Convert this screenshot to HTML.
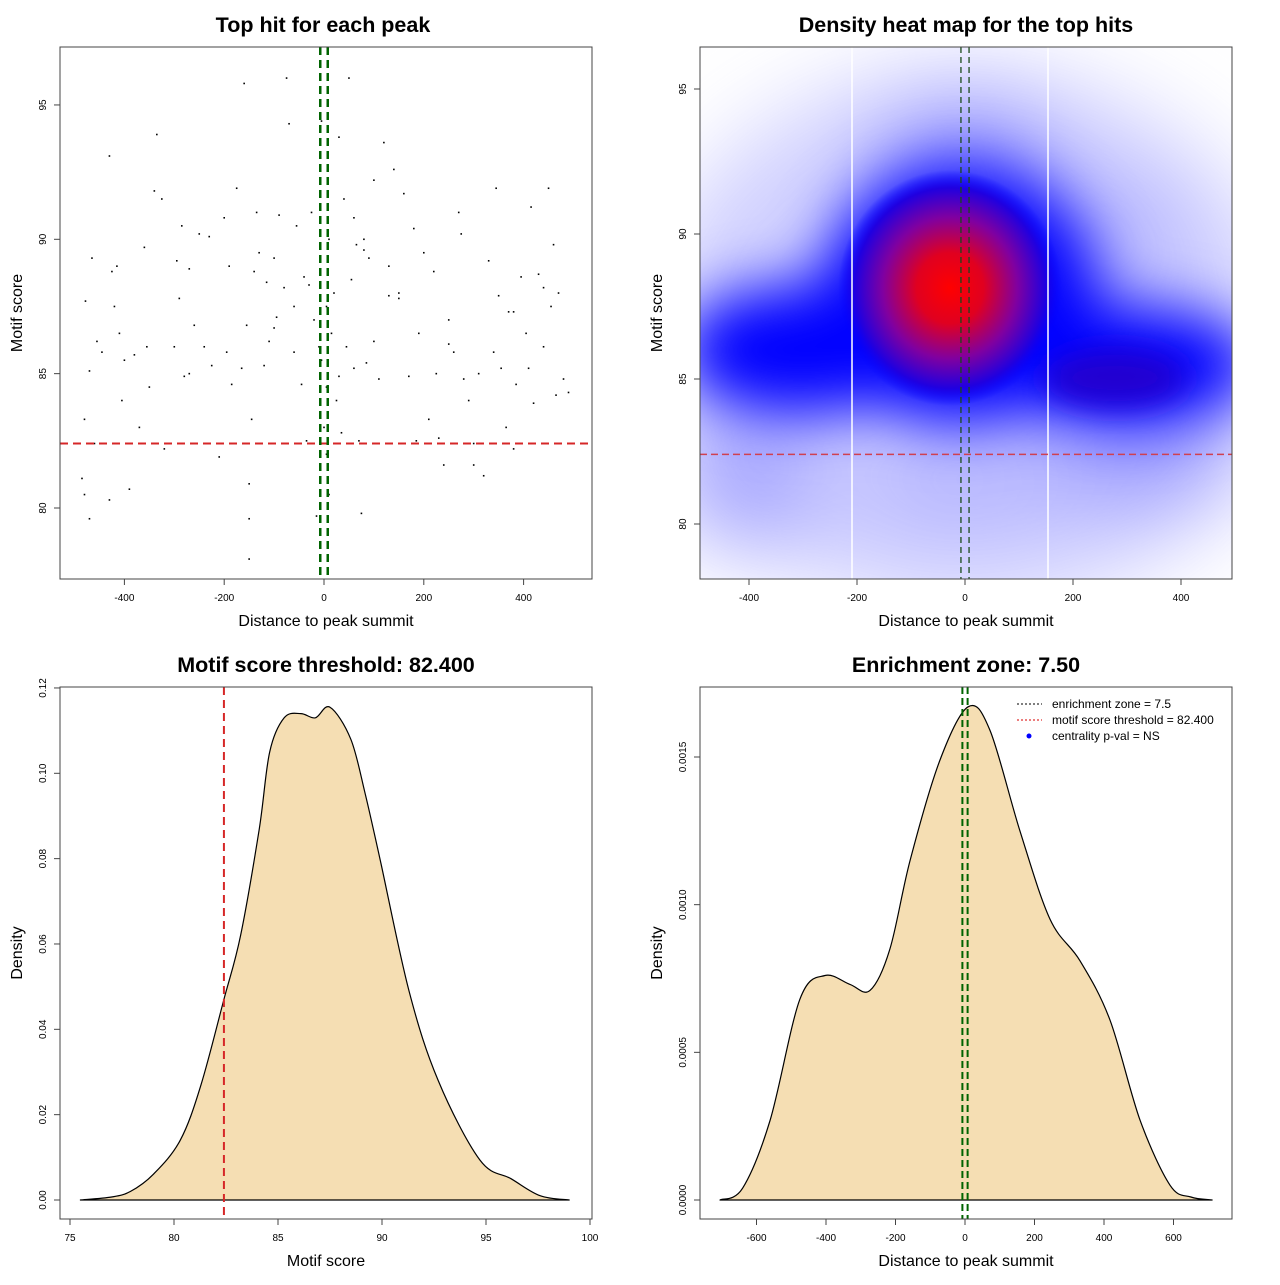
<!DOCTYPE html>
<html><head><meta charset="utf-8"><style>
html,body{margin:0;padding:0;background:#fff}
svg text{font-family:"Liberation Sans",Arial,sans-serif;fill:#000}
</style></head><body>
<svg id="root" xmlns="http://www.w3.org/2000/svg" width="1280" height="1280" viewBox="0 0 1280 1280">
<defs>
<clipPath id="c2"><rect x="700" y="47" width="532" height="532"/></clipPath>
<filter id="blur" x="-50%" y="-50%" width="200%" height="200%"><feGaussianBlur stdDeviation="45"/></filter>
<filter id="blur2" x="-50%" y="-50%" width="200%" height="200%"><feGaussianBlur stdDeviation="30"/></filter>
<filter id="blur3" x="-50%" y="-50%" width="200%" height="200%"><feGaussianBlur stdDeviation="14"/></filter>
<radialGradient id="redg">
<stop offset="0" stop-color="#ff0000"/><stop offset="0.3" stop-color="#e00020"/><stop offset="0.6" stop-color="#8000a0"/><stop offset="0.85" stop-color="#2000e0"/><stop offset="1" stop-color="#0000ff" stop-opacity="0"/>
</radialGradient>
</defs>
<g id="heat" clip-path="url(#c2)">
<rect x="700" y="47" width="532" height="532" fill="#fff"/>
<g filter="url(#blur)">
<ellipse cx="965" cy="340" rx="320" ry="270" fill="#a0a0ff" opacity="0.5"/>
<ellipse cx="740" cy="480" rx="70" ry="70" fill="#8080ff" opacity="0.6"/>
<ellipse cx="1140" cy="450" rx="100" ry="50" fill="#7070ff" opacity="0.6"/>
<ellipse cx="960" cy="480" rx="100" ry="40" fill="#9090ff" opacity="0.5"/>
<ellipse cx="965" cy="170" rx="90" ry="70" fill="#7070ff" opacity="0.6"/>
<ellipse cx="1110" cy="240" rx="60" ry="60" fill="#9090ff" opacity="0.5"/>
</g>
<g filter="url(#blur2)">
<ellipse cx="960" cy="295" rx="140" ry="130" fill="#0000ff"/>
<ellipse cx="800" cy="350" rx="120" ry="65" fill="#0000ff"/>
<ellipse cx="1125" cy="365" rx="130" ry="60" fill="#0000ff"/>
<ellipse cx="965" cy="365" rx="130" ry="55" fill="#0000ff"/>
</g>
<g filter="url(#blur3)">
<ellipse cx="1115" cy="378" rx="70" ry="28" fill="#2400d0"/>
</g>
<ellipse cx="950" cy="288" rx="112" ry="118" fill="url(#redg)"/>
</g>
</svg>
<script>
const NS='http://www.w3.org/2000/svg';
const root=document.getElementById('root');
function mk(tag,attrs,txt){const e=document.createElementNS(NS,tag);for(const k in attrs)e.setAttribute(k,attrs[k]);if(txt!==undefined)e.textContent=txt;root.appendChild(e);return e;}

// ---------- data ----------
const scatterDist=[-480,-478,-470,-465,-460,-455,-445,-430,-425,-420,-415,-410,-405,-400,-390,-380,-370,-360,-355,-340,-335,-325,-320,-300,-295,-290,-285,-280,-270,-260,-250,-240,-225,-210,-200,-195,-185,-175,-165,-160,-155,-150,-145,-140,-135,-120,-115,-110,-100,-95,-90,-80,-75,-70,-60,-55,-45,-35,-25,-20,-15,-10,-5,5,10,15,20,25,30,35,40,45,50,55,60,65,70,75,80,85,90,100,110,120,130,140,150,160,170,180,185,190,200,210,220,225,230,240,250,260,270,275,280,290,300,310,320,330,340,345,350,355,365,370,380,385,395,405,410,415,420,430,440,450,455,460,465,470,480,490,-150,-150,-270,-485,-480,-470,-430,0,5,-5,5,10,-130,-60,-40,60,100,150,-350,-230,-190,-100,-30,30,80,130,250,300,380,440];
const scatterScore=[83.3,87.7,85.1,89.3,82.4,86.2,85.8,93.1,88.8,87.5,89,86.5,84,85.5,80.7,85.7,83,89.7,86,91.8,93.9,91.5,82.2,86,89.2,87.8,90.5,84.9,88.9,86.8,90.2,86,85.3,81.9,90.8,85.8,84.6,91.9,85.2,95.8,86.8,80.9,83.3,88.8,91,85.3,88.4,86.2,89.3,87.1,90.9,88.2,96,94.3,85.8,90.5,84.6,82.5,91,87,79.7,86,94.4,87.5,90,86.5,88,84,93.8,82.8,91.5,86,96,88.5,85.2,89.8,82.5,79.8,90,85.4,89.3,92.2,84.8,93.6,89,92.6,88,91.7,84.9,90.4,82.5,86.5,89.5,83.3,88.8,85,82.6,81.6,87,85.8,91,90.2,84.8,84,81.6,85,81.2,89.2,85.8,91.9,87.9,85.2,83,87.3,82.2,84.6,88.6,86.5,85.2,91.2,83.9,88.7,86,91.9,87.5,89.8,84.2,88,84.8,84.3,78.1,79.6,85,81.1,80.5,79.6,80.3,83,84.5,85.5,82,80.5,89.5,87.5,88.6,90.8,86.2,87.8,84.5,90.1,89,86.7,88.3,84.9,89.6,87.9,86.1,82.4,87.3,88.2];
const scoreX=[75.5,77,77.9,79,80.3,81.3,82.4,83.2,84.1,84.6,85.3,86.1,86.8,87.5,88.5,89.2,89.9,91.3,92.7,94.7,96.2,97.6,99];
const scoreDensity=[0,0.0007,0.002,0.006,0.014,0.027,0.047,0.062,0.087,0.105,0.113,0.114,0.113,0.1155,0.108,0.095,0.080,0.049,0.028,0.0094,0.005,0.001,0];
const distX=[-705,-640,-561,-475,-403,-331,-273,-216,-158,-72,9,72,158,245,331,417,504,590,650,711];
const distDensity=[0,0.00004,0.00027,0.00068,0.00076,0.00073,0.00071,0.00085,0.00115,0.00149,0.00167,0.00159,0.00125,0.00095,0.00081,0.00061,0.00027,0.00005,0.00001,0];
const ticksDist1=[-400,-200,0,200,400];
const ticksScore1=[80,85,90,95];
const ticksScore3=[75,80,85,90,95,100];
const ticksDens3=[0,0.02,0.04,0.06,0.08,0.10,0.12];
const ticksDist4=[-600,-400,-200,0,200,400,600];
const ticksDens4=[0,0.0005,0.0010,0.0015];
const threshold=[82.4];
const zone=[7.5];

// ---------- axis functions ----------
const x1=v=>324+v*0.499, y1=v=>508-(v-80)*26.87;
const x2=v=>965+v*0.54, y2=v=>524-(v-80)*29;
const x3=v=>70+(v-75)*20.8, y3=v=>1200-v*4267;
const x4=v=>965+v*0.3475, y4=v=>1200-v*295333;

function smooth(pts){let d='M'+pts[0][0].toFixed(1)+','+pts[0][1].toFixed(1);
for(let i=0;i<pts.length-1;i++){const p0=pts[Math.max(0,i-1)],p1=pts[i],p2=pts[i+1],p3=pts[Math.min(pts.length-1,i+2)];
const c1=[p1[0]+(p2[0]-p0[0])/6,p1[1]+(p2[1]-p0[1])/6],c2=[p2[0]-(p3[0]-p1[0])/6,p2[1]-(p3[1]-p1[1])/6];
d+=` C${c1[0].toFixed(1)},${c1[1].toFixed(1)} ${c2[0].toFixed(1)},${c2[1].toFixed(1)} ${p2[0].toFixed(1)},${p2[1].toFixed(1)}`;}
return d;}

function box(x,y,name){const e=mk('rect',{x:x,y:y,width:532,height:532,fill:'none',stroke:'#444','stroke-width':1});

}
function title(cx,y,t,name){const e=mk('text',{x:cx,y:y,'text-anchor':'middle','font-size':21.5,'font-weight':'bold'},t);

}
function xlab(cx,y,t){const e=mk('text',{x:cx,y:y,'text-anchor':'middle','font-size':16},t);

}
function ylab(x,cy,t){const e=mk('text',{x:x,y:cy,'text-anchor':'middle','font-size':16,transform:`rotate(-90 ${x} ${cy})`},t);

}
function xticks(ticks,f,yb,fmt){ticks.forEach(t=>{const X=f(t);
const l=mk('line',{x1:X,x2:X,y1:yb,y2:yb+6,stroke:'#444'});


const tx=mk('text',{x:X,y:yb+22,'text-anchor':'middle','font-size':10},fmt?fmt(t):String(t));

});}
function yticks(ticks,f,xb,fmt){ticks.forEach(t=>{const Y=f(t);
const l=mk('line',{x1:xb,x2:xb-6,y1:Y,y2:Y,stroke:'#444'});


const tx=mk('text',{x:xb-14,y:Y,'text-anchor':'middle','font-size':10,transform:`rotate(-90 ${xb-14} ${Y})`},fmt?fmt(t):String(t));

});}
function vline(X,y0,y1_,col,w,dash,name){const e=mk('line',{x1:X,x2:X,y1:y0,y2:y1_,stroke:col,'stroke-width':w,'stroke-dasharray':dash});

}
function hline(Y,x0,x1_,col,w,dash,name){const e=mk('line',{x1:x0,x2:x1_,y1:Y,y2:Y,stroke:col,'stroke-width':w,'stroke-dasharray':dash});

}

// ---------- panel 1 ----------
title(323,32,'Top hit for each peak','scatter-title');
scatterDist.forEach((d,i)=>{const p=mk('rect',{x:x1(d)-0.8,y:y1(scatterScore[i])-0.8,width:1.6,height:1.6,fill:'#000'});

});
hline(y1(threshold[0]),60,592,'#d62728',2,'8 5','threshold-line');
vline(x1(-zone[0]),47,579,'#006400',2.5,'8 5','zone-left-line');
vline(x1(zone[0]),47,579,'#006400',2.5,'8 5','zone-right-line');
box(60,47,'scatter-plot-area');
xticks(ticksDist1,x1,579);yticks(ticksScore1,y1,60);
xlab(326,626,'Distance to peak summit');ylab(22,313,'Motif score');

// ---------- panel 2 ----------
title(966,32,'Density heat map for the top hits','heatmap-title');
vline(852,47,579,'#fff',1.5,'none','heatmap-bound-left');
vline(1048,47,579,'#fff',1.5,'none','heatmap-bound-right');
hline(y2(threshold[0]),700,1232,'#d04050',1.5,'7 4','heatmap-threshold-line');
vline(x2(-zone[0]),47,579,'#1a4a1a',1.3,'6 4','heatmap-zone-left');
vline(x2(zone[0]),47,579,'#1a4a1a',1.3,'6 4','heatmap-zone-right');
box(700,47,'heatmap-plot-area');
xticks(ticksDist1,x2,579);yticks(ticksScore1,y2,700);
xlab(966,626,'Distance to peak summit');ylab(662,313,'Motif score');

// ---------- panel 3 ----------
title(326,672,'Motif score threshold: 82.400','score-density-title');
const p3=scoreX.map((v,i)=>[x3(v),y3(scoreDensity[i])]);
const a3=mk('path',{d:smooth(p3)+' Z',fill:'#f5deb3',stroke:'#000','stroke-width':1.2,'stroke-linejoin':'round'});


vline(x3(threshold[0]),687,1219,'#d62728',2,'8 5','score-threshold-line');
box(60,687,'score-density-plot-area');
xticks(ticksScore3,x3,1219);yticks(ticksDens3,y3,60,v=>v.toFixed(2));
xlab(326,1266,'Motif score');ylab(22,953,'Density');

// ---------- panel 4 ----------
title(966,672,'Enrichment zone: 7.50','distance-density-title');
const p4=distX.map((v,i)=>[x4(v),y4(distDensity[i])]);
const a4=mk('path',{d:smooth(p4)+' Z',fill:'#f5deb3',stroke:'#000','stroke-width':1.2,'stroke-linejoin':'round'});


vline(x4(-zone[0]),687,1219,'#006400',2,'7 4','zone-left-line-2');
vline(x4(zone[0]),687,1219,'#006400',2,'7 4','zone-right-line-2');
box(700,687,'distance-density-plot-area');
xticks(ticksDist4,x4,1219);yticks(ticksDens4,y4,700,v=>v.toFixed(4));
xlab(966,1266,'Distance to peak summit');ylab(662,953,'Density');

// legend
const lg=[['enrichment zone = 7.5','#333','2 2'],['motif score threshold = 82.400','#e03030','2 2'],['centrality p-val = NS','#00f','dot']];
lg.forEach((r,i)=>{const Y=704+i*16;
if(r[2]==='dot'){const c=mk('circle',{cx:1029,cy:Y,r:2.5,fill:r[1]});}
else{const l=mk('line',{x1:1017,x2:1042,y1:Y,y2:Y,stroke:r[1],'stroke-width':1.2,'stroke-dasharray':r[2]});}
const t=mk('text',{x:1052,y:Y+4,'font-size':12},r[0]);

});
</script>
</body></html>
